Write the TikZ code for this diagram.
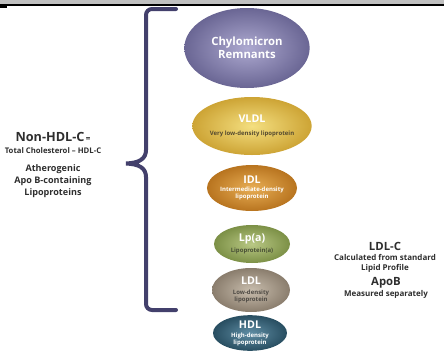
\documentclass[tikz,border=0pt]{standalone}
\usepackage{fontspec}
\setmainfont{Open Sans}
\usetikzlibrary{shapes.geometric,positioning}
\definecolor{braceC}{HTML}{43406C}
\definecolor{inkC}{HTML}{2E2E2E}
\definecolor{bandC}{HTML}{C0C0C0}
\definecolor{chyloIn}{HTML}{ADA9D0}
\definecolor{chyloOut}{HTML}{6A6694}
\definecolor{vldlIn}{HTML}{F4DF80}
\definecolor{vldlOut}{HTML}{CDA435}
\definecolor{idlIn}{HTML}{E8AE55}
\definecolor{idlOut}{HTML}{B8741F}
\definecolor{lpaIn}{HTML}{B9C885}
\definecolor{lpaOut}{HTML}{7C9046}
\definecolor{ldlIn}{HTML}{C8BDAD}
\definecolor{ldlOut}{HTML}{8A7D6D}
\definecolor{hdlIn}{HTML}{5F8DA4}
\definecolor{hdlOut}{HTML}{284E61}
\newcommand{\ttl}[1]{{\fontsize{8}{8}\selectfont #1}}

\begin{document}
\begin{tikzpicture}[
	x=0.75pt,y=-0.75pt,
	lipo/.style 2 args={
		ellipse,
		inner sep=0pt,
		align=center,
		text=white,
		font=\bfseries\fontsize{4.5}{5.3}\selectfont,
		inner color=#1,
		outer color=#2
	},
	note/.style={
		align=center,
		text=inkC,
		inner sep=0pt
	},
	bracket/.style={
		draw=braceC,
		line width=3pt,
		line cap=round
	}
	]
	\useasboundingbox (0,0) rectangle (444,351);
	% strip of the page above
	\fill[bandC] (0,0) rectangle (444,4.5);
	\draw[line width=1.1pt] (0,5) -- (444,5);
	\fill (0,6) rectangle (7,7.5);
	
	% lipoprotein particles
	\node[lipo={chyloIn}{chyloOut},minimum width=94pt,minimum height=60pt,
	font=\bfseries\fontsize{8.5}{10}\selectfont] at (247,48)
	(chylo) {Chylomicron\\Remnants};
	\node[lipo={vldlIn}{vldlOut},minimum width=80pt,minimum height=43.5pt] at (252,126)
	(vldl) {\ttl{VLDL}\\[4pt]\textcolor{inkC!75!vldlOut}{Very low-density lipoprotein}};
	\node[lipo={idlIn}{idlOut},minimum width=63pt,minimum height=34.5pt] at (252,188)
	(idl) {\ttl{IDL}\\[0.7pt]Intermediate-density\\lipoprotein};
	\node[lipo={lpaIn}{lpaOut},minimum width=57pt,minimum height=28.5pt] at (252,244)
	(lpa) {\ttl{Lp(a)}\\[2pt]\textcolor{inkC!65!lpaOut}{Lipoprotein(a)}};
	\node[lipo={ldlIn}{ldlOut},minimum width=58.5pt,minimum height=33pt] at (251,290)
	(ldl) {\ttl{LDL}\\[2pt]\textcolor{inkC!65!ldlOut}{Low-density}\\\textcolor{inkC!65!ldlOut}{lipoprotein}};
	\node[lipo={hdlIn}{hdlOut},minimum width=55.5pt,minimum height=25.5pt] at (250,333)
	(hdl) {\ttl{HDL}\\[1.5pt]High-density\\lipoprotein};
	
	% brace round the atherogenic ones
	\draw[bracket] (176,9) -- (152,9) to[out=180,in=90] (146,15) -- (146,150)
	.. controls (146,159) and (139,163) .. (126,163.5)
	.. controls (139,164) and (146,168) .. (146,177) -- (146,304)
	to[out=-90,in=180] (152,310) -- (176,310);
	
	% texts on the sides
	\node[note,font=\bfseries\fontsize{5.8}{7}\selectfont] at (53,143) (nonhdl)
	{{\fontsize{9.5}{10}\selectfont Non-HDL-C}{\fontsize{6}{6}\selectfont\,=}\\[2pt]Total Cholesterol -- HDL-C};
	\node[note,below=7.5pt of nonhdl,font=\bfseries\fontsize{6.8}{9}\selectfont] (athero)
	{Atherogenic\\Apo B-containing\\Lipoproteins};
	\node[note,font=\bfseries\fontsize{6}{7}\selectfont] at (385,257) (ldlc)
	{{\fontsize{8.5}{9}\selectfont LDL-C}\\[1pt]Calculated from standard\\Lipid Profile};
	\node[note,font=\bfseries\fontsize{6}{7}\selectfont] at (386,288) (apob)
	{{\fontsize{8.5}{9}\selectfont ApoB}\\[1pt]Measured separately};
\end{tikzpicture}
\end{document}
